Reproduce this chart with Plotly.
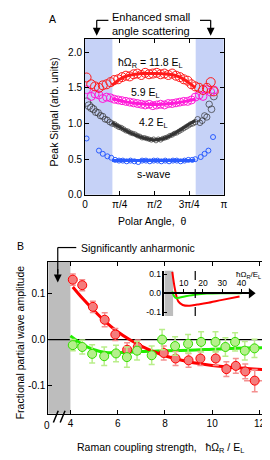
import plotly.graph_objects as go

W, H = 270, 460
def px(x): return x / W
def py(y): return 1 - y / H

FONT = "Liberation Sans"

# ---------------- Panel A data ----------------
theta_rm = [2, 8, 13, 18, 23, 28, 33, 38, 43, 48, 53, 58, 63, 68, 73, 78, 83, 88, 93, 98,
            103, 108, 113, 118, 123, 128, 133, 138, 143, 148, 153, 158, 163, 167]
red_vals = [1.645, 1.55, 1.52, 1.50, 1.535, 1.55, 1.58, 1.61, 1.62, 1.65, 1.67, 1.66, 1.69, 1.70,
            1.68, 1.71, 1.69, 1.70, 1.71, 1.69, 1.70, 1.68, 1.70, 1.67, 1.65, 1.62, 1.60, 1.55,
            1.52, 1.50, 1.47, 1.50, 1.58, 1.45]
mag_vals = [1.475, 1.38, 1.415, 1.40, 1.35, 1.37, 1.36, 1.34, 1.33, 1.32, 1.31, 1.30, 1.29, 1.28,
            1.27, 1.26, 1.27, 1.25, 1.26, 1.27, 1.26, 1.28, 1.28, 1.29, 1.30, 1.31, 1.31, 1.33,
            1.37, 1.40, 1.38, 1.475, 1.44, 1.47]
theta_blk = [2, 5, 8, 11, 14, 17, 20, 23, 26, 29, 32, 35, 38, 41, 44, 47, 50, 53, 56, 59, 62, 65,
             68, 71, 74, 77, 80, 83, 86, 89, 92, 95, 98, 101, 104, 107, 110, 113, 116, 119, 122,
             125, 128, 131, 134, 137, 140, 143, 146, 149, 152, 155, 158, 161, 164, 167]
blk_vals = [1.30, 1.25, 1.22, 1.20, 1.16, 1.15, 1.11, 1.10, 1.06, 1.05, 1.02, 1.00, 0.99, 0.97,
            0.95, 0.94, 0.92, 0.90, 0.89, 0.87, 0.86, 0.85, 0.83, 0.82, 0.80, 0.80, 0.79, 0.78,
            0.77, 0.78, 0.76, 0.78, 0.77, 0.79, 0.80, 0.81, 0.83, 0.84, 0.86, 0.87, 0.89, 0.91,
            0.93, 0.95, 0.97, 0.99, 1.00, 1.02, 1.06, 1.01, 1.04, 1.11, 1.09, 1.27, 1.20, 1.38]
theta_blu = [2, 18, 23, 29, 34, 39, 44, 49, 54, 59, 64, 69, 74, 79, 84, 89, 94, 99, 104, 109,
             114, 119, 124, 129, 134, 139, 143, 150, 155, 160, 166]
blu_vals = [0.79, 0.62, 0.575, 0.54, 0.52, 0.49, 0.48, 0.48, 0.47, 0.48, 0.47, 0.46, 0.48, 0.48,
            0.47, 0.48, 0.48, 0.47, 0.48, 0.47, 0.48, 0.48, 0.47, 0.48, 0.49, 0.49, 0.50, 0.53,
            0.575, 0.62, 0.81]

fit_theta_red = [35, 45, 55, 65, 75, 90, 105, 115, 125, 135, 143]
fit_red = [1.535, 1.62, 1.67, 1.69, 1.70, 1.70, 1.695, 1.68, 1.64, 1.57, 1.50]
fit_theta_mag = [35, 50, 65, 80, 90, 100, 115, 130, 143]
fit_mag = [1.35, 1.31, 1.285, 1.27, 1.265, 1.27, 1.285, 1.31, 1.34]
fit_theta_blk = [35, 45, 55, 65, 75, 85, 90, 95, 105, 115, 125, 135, 143]
fit_blk = [1.01, 0.95, 0.89, 0.84, 0.80, 0.775, 0.77, 0.775, 0.80, 0.855, 0.92, 0.99, 1.04]
fit_theta_blu = [35, 90, 143]
fit_blu = [0.48, 0.48, 0.48]

a_xticks = [0, 45, 90, 135, 180]
a_xtext = ["0", "π/4", "π/2", "3π/4", "π"]
a_yticks = [0.0, 0.5, 1.0, 1.5, 2.0]
a_ytext = ["0.0", "0.5", "1.0", "1.5", "2.0"]

# ---------------- Panel B data ----------------
red_x = [4.1, 4.5, 4.95, 5.45, 5.9, 6.4, 6.85, 7.95, 8.45, 9.0, 9.5, 10.15, 10.6, 11.0, 11.4, 11.8]
red_y = [0.130, 0.118, 0.071, 0.043, 0.011, -0.022, -0.016, -0.029, -0.041, -0.045, -0.041,
         -0.041, -0.064, -0.057, -0.069, -0.089]
red_ey = [0.012, 0.012, 0.012, 0.015, 0.013, 0.015, 0.015, 0.015, 0.015, 0.015, 0.015, 0.015,
          0.016, 0.016, 0.016, 0.024]
red_ex = [0, 0, 0, 0, 0, 0.1, 0.15, 0.15, 0.15, 0.15, 0.15, 0.15, 0.2, 0.2, 0.25, 0.45]
grn_x = [4.1, 4.5, 4.92, 5.43, 5.93, 6.39, 6.82, 7.44, 7.88, 8.43, 8.98, 9.53, 10.14, 10.56,
         10.97, 11.38, 11.79]
grn_y = [-0.012, -0.016, -0.031, -0.036, -0.030, -0.038, -0.024, -0.034, 0.0, -0.014, -0.009,
         -0.005, -0.005, -0.016, -0.005, -0.024, -0.019]
grn_ey = [0.012, 0.015, 0.02, 0.02, 0.018, 0.022, 0.02, 0.02, 0.022, 0.02, 0.02, 0.022, 0.022,
          0.02, 0.02, 0.02, 0.02]
grn_ex = [0, 0, 0, 0, 0, 0.1, 0.1, 0.15, 0.15, 0.15, 0.15, 0.15, 0.15, 0.2, 0.2, 0.2, 0.2]
fit_b_x_red = [4.1, 4.5, 5.0, 5.5, 6.0, 6.5, 7.0, 8.0, 9.0, 10.0, 11.0, 12.5]
fit_b_red = [0.114, 0.090, 0.063, 0.038, 0.017, 0.0, -0.014, -0.035, -0.048, -0.056, -0.061, -0.066]
fit_b_x_grn = [4.0, 4.5, 5.0, 5.5, 6.0, 7.0, 8.0, 9.0, 10.0, 11.0, 12.5]
fit_b_grn = [0.008, -0.010, -0.022, -0.028, -0.028, -0.026, -0.024, -0.023, -0.021, -0.019, -0.017]
b_xticks = [4, 6, 8, 10, 12]
b_yticks = [-0.1, 0.0, 0.1]
b_ytext = ["-0.1", "0.0", "0.1"]

# inset
ins_x_red = [4.1, 5.5, 7.2, 9.5, 13, 17, 22, 30, 39]
ins_red = [0.113, 0.02, -0.043, -0.062, -0.066, -0.060, -0.052, -0.035, -0.017]
ins_x_grn = [4.1, 5.0, 6.3, 8.0, 10.5, 16.5, 22, 30, 40]
ins_grn = [0.009, -0.015, -0.026, -0.022, -0.017, -0.007, -0.002, 0.0, 0.0]
ins_xticks = [10, 20, 30, 40]
ins_yticks = [-0.1, 0.0, 0.1]
ins_ytext = ["-0.1", "0.0", "0.1"]

RED = "#ff1a1a"
MAG = "#ff1ad9"
BLK = "#333333"
BLU = "#2a5cff"

fig = go.Figure()

# ---- panel A traces
def blk_size(t):
    d = abs(t - 90) / 90.0
    return 4.5 + 4.0 * d ** 3

fig.add_trace(go.Scatter(x=theta_blu, y=blu_vals, mode="markers", xaxis="x", yaxis="y",
                         marker=dict(symbol="circle-open", size=5, color=BLU, line=dict(width=1))))
fig.add_trace(go.Scatter(x=theta_blk, y=blk_vals, mode="markers", xaxis="x", yaxis="y",
                         marker=dict(symbol="circle-open", size=[blk_size(t) for t in theta_blk],
                                     color=BLK, line=dict(width=1))))
fig.add_trace(go.Scatter(x=theta_rm, y=mag_vals, mode="markers", xaxis="x", yaxis="y",
                         marker=dict(symbol="circle-open", size=8, color=MAG, line=dict(width=1))))
fig.add_trace(go.Scatter(x=theta_rm, y=red_vals, mode="markers", xaxis="x", yaxis="y",
                         marker=dict(symbol="circle-open", size=9, color=RED, line=dict(width=1))))
for tx, ty, c in [(fit_theta_blu, fit_blu, BLU), (fit_theta_blk, fit_blk, BLK),
                  (fit_theta_mag, fit_mag, MAG), (fit_theta_red, fit_red, RED)]:
    fig.add_trace(go.Scatter(x=tx, y=ty, mode="lines", xaxis="x", yaxis="y",
                             line=dict(color=c, width=3, shape="spline")))

# ---- panel B traces
GRN = "#33dd00"
fig.add_trace(go.Scatter(x=fit_b_x_grn, y=fit_b_grn, mode="lines", xaxis="x2", yaxis="y2",
                         line=dict(color="#22ee00", width=3, shape="spline")))
fig.add_trace(go.Scatter(x=fit_b_x_red, y=fit_b_red, mode="lines", xaxis="x2", yaxis="y2",
                         line=dict(color="#ff0000", width=3, shape="spline")))
fig.add_trace(go.Scatter(x=red_x, y=red_y, mode="markers", xaxis="x2", yaxis="y2",
                         error_y=dict(array=red_ey, color="#f49090", thickness=1.5, width=3),
                         error_x=dict(array=red_ex, color="#f49090", thickness=1.5, width=0),
                         marker=dict(size=9, color="#f47c7c", line=dict(color="#ff0000", width=1))))
fig.add_trace(go.Scatter(x=grn_x, y=grn_y, mode="markers", xaxis="x2", yaxis="y2",
                         error_y=dict(array=grn_ey, color="#b9ee8a", thickness=1.5, width=3),
                         error_x=dict(array=grn_ex, color="#b9ee8a", thickness=1.5, width=0),
                         marker=dict(size=9, color="#b5f08c", line=dict(color=GRN, width=1))))

# ---- inset traces
fig.add_trace(go.Scatter(x=ins_x_red, y=ins_red, mode="lines", xaxis="x3", yaxis="y3",
                         line=dict(color="#ff0000", width=2, shape="spline")))
fig.add_trace(go.Scatter(x=ins_x_grn, y=ins_grn, mode="lines", xaxis="x3", yaxis="y3",
                         line=dict(color="#22ee00", width=2, shape="spline")))
fig.add_trace(go.Scatter(x=[45], y=[0], mode="markers", xaxis="x3", yaxis="y3", cliponaxis=False,
                         marker=dict(symbol="triangle-right", size=9, color="black")))

axis_common = dict(showline=True, linecolor="black", linewidth=1, ticks="inside", ticklen=4,
                   tickcolor="black", mirror="ticks", showgrid=False, zeroline=False,
                   tickfont=dict(family=FONT, size=10, color="black"))

fig.update_layout(
    width=W, height=H, margin=dict(l=0, r=0, t=0, b=0),
    paper_bgcolor="white", plot_bgcolor="white", showlegend=False,
    font=dict(family=FONT, size=10, color="black"),
    xaxis=dict(domain=[px(76), px(218.5)], range=[0, 180], anchor="y",
               tickvals=a_xticks, ticktext=a_xtext, **axis_common),
    yaxis=dict(domain=[py(188.3), py(30)], range=[0, 2.19], anchor="x",
               tickvals=a_yticks, ticktext=a_ytext, **axis_common),
    xaxis2=dict(domain=[px(38.3), px(266.7)], range=[3.064, 12.48], anchor="y2",
                tickvals=b_xticks, **axis_common),
    yaxis2=dict(domain=[py(410), py(256)], range=[-0.1606, 0.169], anchor="x2",
                tickvals=b_yticks, ticktext=b_ytext, **axis_common),
    xaxis3=dict(domain=[px(157.5), px(246.5)], range=[0, 45], anchor="free", position=py(288),
                side="top", showline=True, linecolor="black", linewidth=1.5, ticks="outside",
                ticklen=3, tickcolor="black", tickvals=ins_xticks, showgrid=False, zeroline=False,
                tickfont=dict(family=FONT, size=8.5, color="black"), ticklabelstandoff=0),
    yaxis3=dict(domain=[py(311), py(265)], range=[-0.12, 0.12], anchor="x3",
                showline=True, linecolor="black", linewidth=1.5, ticks="inside", ticklen=3,
                tickcolor="black", tickvals=ins_yticks, ticktext=ins_ytext, showgrid=False,
                zeroline=False, tickfont=dict(family=FONT, size=8.5, color="black")),
)

shapes = []
# Panel A bands
for x0, x1 in [(0, 35.5), (143.5, 180)]:
    shapes.append(dict(type="rect", xref="x", yref="y domain", x0=x0, x1=x1, y0=0, y1=1,
                       fillcolor="#c6d2f7", line=dict(width=0), layer="below"))
# Panel B gray region and zero line
shapes.append(dict(type="rect", xref="x2", yref="y2 domain", x0=3.0, x1=4.0, y0=0, y1=1,
                   fillcolor="#bdbdbd", line=dict(width=0), layer="below"))
shapes.append(dict(type="line", xref="x2 domain", yref="y2", x0=0, x1=1, y0=0, y1=0,
                   line=dict(color="black", width=1.2), layer="below"))
# inset gray region and dashed line
shapes.append(dict(type="rect", xref="x3", yref="y3", x0=0, x1=4.5, y0=-0.12, y1=0.12,
                   fillcolor="#bdbdbd", line=dict(width=0), layer="below"))
shapes.append(dict(type="line", xref="x3", yref="y3", x0=16, x1=16, y0=-0.12, y1=0.12,
                   line=dict(color="black", width=1.2, dash="dash")))
# bracket lines (paper px)
def pline(x0, y0, x1, y1, w=1.2):
    shapes.append(dict(type="line", xref="paper", yref="paper", x0=px(x0), y0=py(y0),
                       x1=px(x1), y1=py(y1), line=dict(color="black", width=w)))
pline(88, 11.5, 100, 11.5)
pline(88, 11.5, 88, 22)
pline(194, 11.5, 205, 11.5)
pline(205, 11.5, 205, 22)
pline(48, 241.7, 67, 241.7)
pline(48, 241.7, 48, 268)
# axis break marks
pline(43.5, 419, 48.5, 407, 1.5)
pline(50.5, 419, 55.5, 407, 1.5)
fig.update_layout(shapes=shapes)

ann = []
def text(x, y, s, size=10, xanchor="center", angle=0):
    ann.append(dict(xref="paper", yref="paper", x=px(x), y=py(y), text=s, showarrow=False,
                    xanchor=xanchor, yanchor="middle", textangle=angle,
                    font=dict(family=FONT, size=size, color="black")))
def arrow(x, ytip, ytail):
    ann.append(dict(xref="paper", yref="paper", x=px(x), y=py(ytip), ax=0, ay=-(ytip - ytail),
                    text="", showarrow=True, arrowhead=2, arrowsize=1.3, arrowwidth=1.2,
                    arrowcolor="black"))

text(43, 10, "A", 10.5)
text(144, 8, "Enhanced small", 11)
text(144, 22, "angle scattering", 11)
arrow(88, 27, 18)
arrow(205, 27, 18)
text(143.5, 55, "ħΩ<sub>R</sub> = 11.8 E<sub>L</sub>", 10.5)
text(138, 85, "5.9 E<sub>L</sub>", 10.5)
text(146, 115.5, "4.2 E<sub>L</sub>", 10.5)
text(146, 167.5, "s-wave", 10.5)
text(44, 104, "Peak Signal (arb. units)", 10.5, angle=-90)
text(145, 215, "Polar Angle,  θ", 10.5)

text(10, 240, "B", 10.5)
text(70, 241.7, "Significantly anharmonic", 10.5, xanchor="left")
arrow(48, 277, 262)
text(9, 338, "Fractional partial wave amplitude", 10.5, angle=-90)
text(36.7, 422, "0", 10)
text(153, 445, "Raman coupling strength,   ħΩ<sub>R</sub> / E<sub>L</sub>", 10.5)
text(244, 270, "ħΩ<sub>R</sub>/E<sub>L</sub>", 8)
fig.update_layout(annotations=ann)

fig.write_html("out.html")
